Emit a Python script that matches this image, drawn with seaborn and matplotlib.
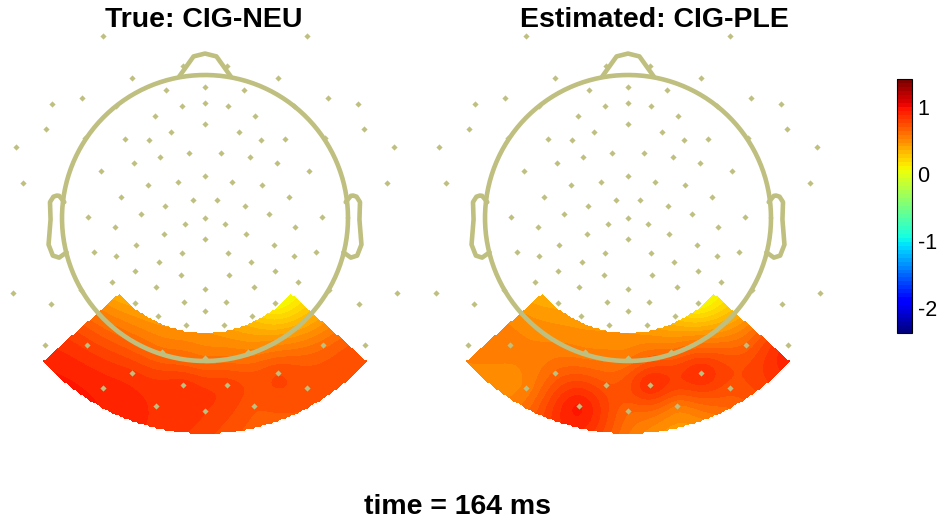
import numpy as np
import matplotlib
matplotlib.use("Agg")
import matplotlib.pyplot as plt
from matplotlib.colors import Normalize
from matplotlib.cm import ScalarMappable
import seaborn as sns

# ---------------------------------------------------------------------------
# Channel locations (head-radius units, x to the right, y towards the nose)
# ---------------------------------------------------------------------------
elec_x = [-0.71, 0.71, -0.51, 0.51, 0.0, -0.27, 0.27, -1.07, -0.86, 0.86,
          1.07, -0.16, 0.0, 0.16, -0.35, 0.35, -0.62, 0.62, -0.84, 0.84,
          -1.11, 1.11, 0.0, -0.235, 0.235, -0.56, -0.395, 0.395, 0.56, -1.32,
          1.32, -0.115, 0.115, -0.315, 0.315, -0.50, 0.50, -0.73, 0.73, 0.0,
          -0.19, 0.19, -0.40, 0.40, -1.27, 1.27, -0.585, 0.585, -0.087, 0.087,
          -0.283, 0.283, -0.45, 0.45, -0.818, 0.818, 0.0, -0.143, 0.143, -0.626,
          0.626, -0.29, 0.29, 0.0, -0.486, 0.486, -0.773, 0.773, -0.164, 0.164,
          -0.62, 0.62, -0.325, 0.325, -0.493, 0.493, -0.17, 0.17,
          # posterior channels
          -0.647, 0.647, -0.34, 0.34, 0.0, -1.346, 1.346, -0.87, 0.87, -1.08,
          1.08, -0.493, 0.493, -0.15, 0.15, 0.0, -0.332, 0.332, -0.13, 0.13,
          -1.122, 1.122, -0.825, 0.825, -0.30, 0.30, 0.0, -0.507, 0.507, -0.71,
          0.71, -0.157, 0.157, -0.346, 0.346, 0.0,
          # prefrontal pair at the nose
          -0.154, 0.154]
elec_y = [1.27, 1.27, 0.98, 0.98, 0.916, 0.895, 0.895, 0.80, 0.84, 0.84,
          0.80, 0.78, 0.804, 0.78, 0.71, 0.71, 0.78, 0.78, 0.56, 0.56,
          0.62, 0.62, 0.657, 0.60, 0.60, 0.55, 0.545, 0.545, 0.55, 0.50,
          0.50, 0.455, 0.455, 0.427, 0.427, 0.385, 0.385, 0.33, 0.33, 0.294,
          0.25, 0.25, 0.23, 0.23, 0.245, 0.245, 0.147, 0.147, 0.126, 0.126,
          0.084, 0.084, 0.028, 0.028, 0.007, 0.007, 0.0, -0.042, -0.042, -0.063,
          -0.063, -0.112, -0.112, -0.147, -0.189, -0.189, -0.238, -0.238, -0.245, -0.245,
          -0.266, -0.266, -0.308, -0.308, -0.371, -0.371, -0.399, -0.399,
          # posterior channels
          -0.448, -0.448, -0.483, -0.483, -0.497, -0.524, -0.524, -0.50, -0.50, -0.60,
          -0.60, -0.594, -0.594, -0.587, -0.587, -0.65, -0.685, -0.685, -0.748, -0.748,
          -0.888, -0.888, -0.888, -0.888, -0.94, -0.94, -0.98, -1.084, -1.084, -1.189,
          -1.189, -1.168, -1.168, -1.315, -1.315, -1.35,
          # prefrontal pair at the nose
          1.063, 1.063]

# Indices of the posterior channels that carry the displayed potentials
post_start = 78
post_count = 36

# Potentials of the posterior channels (same order as above)
true_vals = [0.30, 0.05, 0.25, 0.00, 0.15, 0.60, 0.30, 0.50, 0.25, 0.70,
             0.45, 0.38, 0.05, 0.30, 0.20, 0.35, 0.42, 0.25, 0.45, 0.40,
             0.88, 0.72, 0.80, 0.62, 0.62, 0.55, 0.60, 0.84, 0.76, 0.92,
             0.74, 0.86, 0.80, 0.88, 0.72, 0.83]
est_vals = [0.30, 0.05, 0.25, 0.00, 0.15, 0.50, 0.40, 0.45, 0.25, 0.55,
            0.55, 0.38, 0.05, 0.30, 0.20, 0.35, 0.42, 0.25, 0.45, 0.40,
            0.55, 0.90, 0.55, 0.66, 0.55, 0.62, 0.58, 0.66, 0.88, 0.55,
            0.74, 0.72, 0.88, 0.95, 0.58, 0.66]

titles = ["True: CIG-NEU", "Estimated: CIG-PLE"]
time_label = "time = 164 ms"
clim = (-2.37, 1.42)
cbar_ticks = [-2, -1, 0, 1]

HEAD_COLOR = "#bfbf80"
FIG_W, FIG_H = 941, 522

sns.set_theme(style="white")
plt.rcParams["font.family"] = ["Liberation Sans", "DejaVu Sans"]
plt.rcParams["text.color"] = "black"

fig = plt.figure(figsize=(FIG_W / 100, FIG_H / 100), dpi=100)
fig.patch.set_facecolor("white")

cmap = plt.get_cmap("jet", 64)
norm = Normalize(*clim)
levels = np.linspace(clim[0], clim[1], 65)


def green(d):
    out = np.zeros_like(d)
    nz = d > 0
    out[nz] = d[nz] ** 2 * (np.log(d[nz]) - 1.0)
    return out


def biharmonic(xe, ye, ve, X, Y):
    dx = xe[:, None] - xe[None, :]
    dy = ye[:, None] - ye[None, :]
    w = np.linalg.solve(green(np.hypot(dx, dy)), ve)
    gx = X.ravel()[:, None] - xe[None, :]
    gy = Y.ravel()[:, None] - ye[None, :]
    return (green(np.hypot(gx, gy)) @ w).reshape(X.shape)


def head_axes(cx, cy, left, width, top, height, scale=143.0):
    ax = fig.add_axes([left / FIG_W, 1 - (top + height) / FIG_H,
                       width / FIG_W, height / FIG_H])
    ax.set_xlim((left - cx) / scale, (left + width - cx) / scale)
    ax.set_ylim((cy - top - height) / scale, (cy - top) / scale)
    ax.set_aspect("equal")
    ax.axis("off")
    return ax


ex = np.array(elec_x)
ey = np.array(elec_y)
px = ex[post_start:post_start + post_count]
py = ey[post_start:post_start + post_count]

g = np.linspace(-1.53, 1.53, 260)
GX, GY = np.meshgrid(g, g)
R = np.hypot(GX, GY)
ANG = np.degrees(np.arctan2(np.abs(GX), -GY))
outside = (R < 0.80) | (R > 1.51) | (ANG > 48.5)

# head outline pieces
t = np.linspace(0, 2 * np.pi, 400)
nose_x = np.array([0.18, 0.08, 0.0, -0.08, -0.18])
nose_y = np.array([0.99, 1.13, 1.15, 1.13, 0.99])
ear_x = np.array([0.984, 1.02, 1.036, 1.06, 1.084, 1.08, 1.094, 1.064, 1.02, 0.968])
ear_y = np.array([0.111, 0.155, 0.157, 0.149, 0.111, -0.011, -0.186, -0.263, -0.277, -0.240])

for vals, cx, left in zip([true_vals, est_vals], [205, 628], [0, 423]):
    ax = head_axes(cx, 218, left, 415, 30, 440)
    Z = biharmonic(px, py, np.array(vals), GX, GY)
    Z = np.ma.masked_array(np.clip(Z, clim[0], clim[1]), mask=outside)
    ax.contourf(GX, GY, Z, levels=levels, cmap=cmap, norm=norm, antialiased=False)

    lw = 3.3
    ax.plot(np.cos(t), np.sin(t), color=HEAD_COLOR, lw=lw, solid_capstyle="round")
    ax.plot(nose_x, nose_y, color=HEAD_COLOR, lw=lw, solid_joinstyle="round")
    ax.plot(ear_x, ear_y, color=HEAD_COLOR, lw=lw, solid_joinstyle="round")
    ax.plot(-ear_x, ear_y, color=HEAD_COLOR, lw=lw, solid_joinstyle="round")

    sns.scatterplot(x=ex, y=ey, marker="D", s=10, color=HEAD_COLOR,
                    linewidth=0, ax=ax, legend=False, zorder=5)

# titles and time stamp
fig.text(204 / FIG_W, 1 - 27 / FIG_H, titles[0], ha="center", va="baseline",
         fontsize=20.5, fontweight="bold", color="black")
fig.text(654 / FIG_W, 1 - 27 / FIG_H, titles[1], ha="center", va="baseline",
         fontsize=20.5, fontweight="bold", color="black")
fig.text(457 / FIG_W, 1 - 514 / FIG_H, time_label, ha="center", va="baseline",
         fontsize=20.5, fontweight="bold", color="black")

# colour bar
cax = fig.add_axes([897 / FIG_W, 1 - 333 / FIG_H, 15 / FIG_W, 254 / FIG_H])
cb = fig.colorbar(ScalarMappable(norm=norm, cmap=cmap), cax=cax, ticks=cbar_ticks)
cb.outline.set_linewidth(0.8)
cb.outline.set_edgecolor("black")
cax.yaxis.set_ticks_position("both")
cax.tick_params(axis="y", direction="in", length=3, width=0.7, labelsize=15.5,
                labelright=True, labelleft=False, pad=4, colors="black")
cax.set_yticklabels([str(v) for v in cbar_ticks])

fig.savefig("out.png", dpi=100, facecolor="white")
